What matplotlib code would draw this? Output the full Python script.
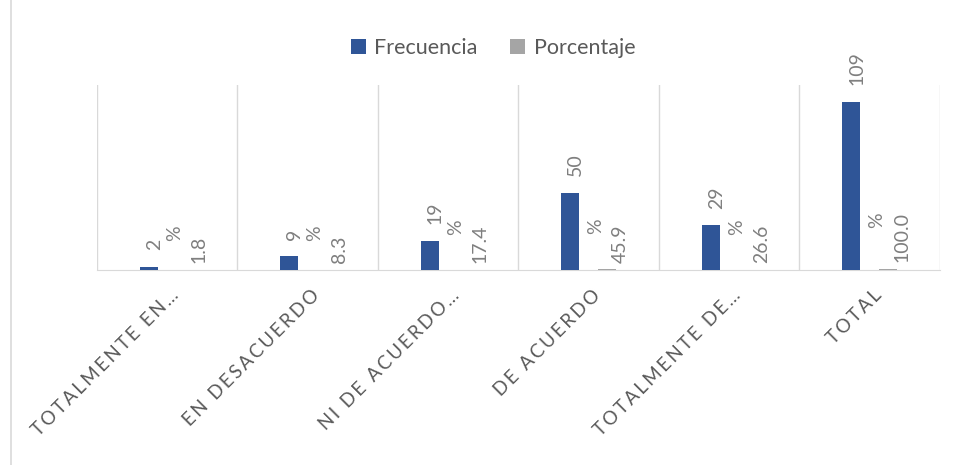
import matplotlib.pyplot as plt
import matplotlib.transforms as mtransforms
import numpy as np
from matplotlib.lines import Line2D

categorias = ["TOTALMENTE EN…", "EN DESACUERDO", "NI DE ACUERDO…",
              "DE ACUERDO", "TOTALMENTE DE…", "TOTAL"]
frecuencia = [2, 9, 19, 50, 29, 109]
porcentaje = [0.018, 0.083, 0.174, 0.459, 0.266, 1.000]

AZUL = "#2F5597"
GRIS = "#A5A5A5"
TEXTO = "#7F7F7F"

plt.rcParams['font.family'] = ['Lato', 'DejaVu Sans']


def espaciar(s):
    # Excel draws the axis labels with extra letter spacing
    return "\u2009".join(s)


fig = plt.figure(figsize=(9.58, 4.65), dpi=100)
ax = fig.add_axes([0.101, 0.419, 0.880, 0.398])

x = np.arange(len(categorias))
ancho = 0.13
b1 = ax.bar(x - ancho, frecuencia, ancho, color=AZUL, label="Frecuencia", zorder=3)
b2 = ax.bar(x + ancho, porcentaje, ancho, color=GRIS, label="Porcentaje", zorder=3)

ax.set_xlim(-0.5, len(categorias) - 0.5)
ax.set_ylim(0, 120)

# grid between categories
for b in np.arange(-0.5, len(categorias), 1):
    ax.axvline(b, color="#D9D9D9", lw=1, zorder=1)

for s in ["top", "right", "left"]:
    ax.spines[s].set_visible(False)
ax.spines["bottom"].set_color("#D9D9D9")
ax.tick_params(axis="y", left=False, labelleft=False)
ax.tick_params(axis="x", length=0, pad=14)
ax.set_xticks(x)
ax.set_xticklabels([espaciar(c) for c in categorias], rotation=45, ha="right",
                   rotation_mode="anchor", fontsize=13.5, color="#595959")
desplaza = mtransforms.ScaledTranslation(3 / 100, 3 / 100, fig.dpi_scale_trans)
for lbl in ax.get_xticklabels():
    lbl.set_transform(lbl.get_transform() + desplaza)

# data labels
for rect, v in zip(b1, frecuencia):
    ax.annotate(str(v), (rect.get_x() + rect.get_width() / 2, rect.get_height()),
                xytext=(4, 12), textcoords="offset points", rotation=90,
                ha="center", va="bottom", fontsize=14, color=TEXTO)

for rect, v in zip(b2, porcentaje):
    t = ax.annotate(f"{v * 100:.1f}", (rect.get_x() + rect.get_width() / 2, rect.get_height()),
                    xytext=(10, 5), textcoords="offset points", rotation=90,
                    ha="center", va="bottom", fontsize=14, color=TEXTO)
    ax.annotate("%", xy=(0.5, 0.5), xycoords=t, xytext=(-18, 12),
                textcoords="offset points", rotation=90,
                ha="center", va="center", fontsize=14, color=TEXTO)

ax.legend(loc="lower center", bbox_to_anchor=(0.47, 1.04), ncol=2, frameon=False,
          fontsize=15.5, labelcolor="#595959", handlelength=0.7, handleheight=0.7,
          handletextpad=0.4, columnspacing=1.5)

fig.add_artist(Line2D([0.011, 0.011], [0, 1], color="#D9D9D9", lw=1.2))

fig.savefig("out.png", dpi=100)
